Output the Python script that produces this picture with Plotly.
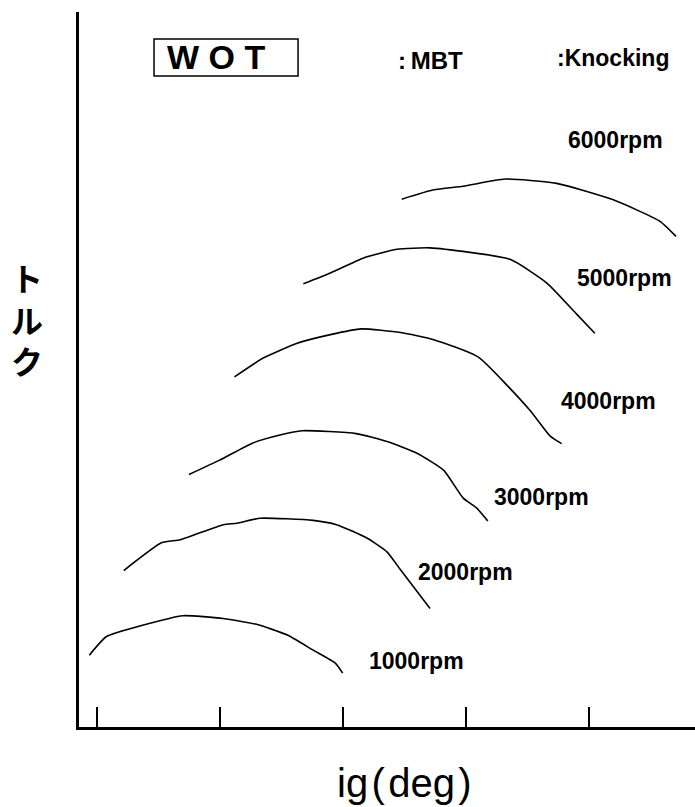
import plotly.graph_objects as go

# Full-throttle (WOT) torque vs. ignition timing, one curve per engine speed
ig_1000 = [-0.6, 0.8, 3.8, 7.0, 10.3, 13.0, 15.5, 17.6, 19.4, 20.0]
tq_1000 = [10.3, 12.9, 14.5, 15.8, 15.4, 14.6, 13.1, 11.0, 9.2, 7.8]

ig_2000 = [2.2, 5.3, 6.8, 10.3, 11.4, 13.3, 17.6, 19.5, 22.0, 23.6, 24.7, 27.1]
tq_2000 = [22.1, 26.0, 26.4, 28.5, 28.7, 29.4, 29.1, 28.5, 26.6, 24.7, 22.2, 16.8]

ig_3000 = [7.5, 10.0, 12.7, 14.9, 16.7, 21.1, 23.6, 26.0, 28.2, 29.8, 30.9, 31.8]
tq_3000 = [35.5, 37.5, 39.9, 41.0, 41.6, 41.2, 40.1, 38.5, 36.1, 32.2, 30.8, 29.0]

ig_4000 = [11.2, 13.5, 16.3, 19.0, 21.5, 24.7, 27.4, 31.0, 35.2, 36.9, 37.8]
tq_4000 = [49.1, 51.7, 53.8, 55.0, 55.8, 55.3, 54.3, 51.9, 44.5, 40.8, 39.8]

ig_5000 = [16.8, 19.0, 21.7, 24.4, 27.1, 33.6, 36.6, 39.0, 40.5]
tq_5000 = [62.1, 63.6, 65.7, 66.9, 67.1, 65.5, 62.2, 57.9, 55.2]

ig_6000 = [24.8, 27.4, 29.8, 33.2, 37.4, 42.0, 45.8, 47.1]
tq_6000 = [73.9, 75.2, 75.7, 76.7, 76.1, 73.8, 70.8, 68.7]

curves = [
    ("1000rpm", ig_1000, tq_1000),
    ("2000rpm", ig_2000, tq_2000),
    ("3000rpm", ig_3000, tq_3000),
    ("4000rpm", ig_4000, tq_4000),
    ("5000rpm", ig_5000, tq_5000),
    ("6000rpm", ig_6000, tq_6000),
]

# label anchor (ig, torque) for each speed
label_pos = {
    "1000rpm": (26.0, 9.5),
    "2000rpm": (30.0, 21.9),
    "3000rpm": (36.2, 32.4),
    "4000rpm": (41.6, 45.7),
    "5000rpm": (42.9, 62.9),
    "6000rpm": (42.2, 82.1),
}

tick_vals = [0, 10, 20, 30, 40]

LATIN = "Liberation Sans, Arial, sans-serif"

fig = go.Figure()
for name, xs, ys in curves:
    fig.add_trace(go.Scatter(
        x=xs, y=ys, mode="lines", name=name,
        line=dict(color="black", width=1.6, shape="spline", smoothing=0.5),
        showlegend=False, hoverinfo="skip",
    ))

annotations = []
for name, _, _ in curves:
    lx, ly = label_pos[name]
    annotations.append(dict(
        x=lx, y=ly, xref="x", yref="y", text=name, showarrow=False,
        font=dict(family=LATIN, size=23, color="black", weight="bold"),
        xanchor="center", yanchor="middle",
    ))

annotations += [
    dict(x=9.7, y=93.7, xref="x", yref="y", text="W O T", showarrow=False,
         font=dict(family=LATIN, size=34, color="black", weight="bold"),
         xanchor="center", yanchor="middle"),
    dict(x=27.1, y=93.3, xref="x", yref="y", text=":\u2009MBT", showarrow=False,
         font=dict(family=LATIN, size=24, color="black", weight="bold"),
         xanchor="center", yanchor="middle"),
    dict(x=42.0, y=93.6, xref="x", yref="y", text=":Knocking", showarrow=False,
         font=dict(family=LATIN, size=23, color="black", weight="bold"),
         xanchor="center", yanchor="middle"),
    dict(x=-0.0844, y=0.572, xref="paper", yref="paper", text="ト<br>ル<br>ク",
         showarrow=False,
         font=dict(family="Noto Sans CJK JP", size=32, color="black", weight="bold"),
         xanchor="center", yanchor="middle"),
    dict(x=0.529, y=-0.078, xref="paper", yref="paper",
         text="ig\u200a(\u200adeg\u200a)",
         showarrow=False,
         font=dict(family=LATIN, size=40, color="black"),
         xanchor="center", yanchor="middle"),
]

fig.update_layout(
    width=695, height=807,
    margin=dict(l=79, r=0, t=12, b=80),
    paper_bgcolor="white", plot_bgcolor="white",
    annotations=annotations,
    shapes=[dict(type="rect", xref="x", yref="y",
                 x0=4.66, x1=16.37, y0=91.07, y1=96.23,
                 line=dict(color="black", width=1.5))],
)
fig.update_xaxes(
    range=[-1.439, 48.642], showgrid=False, zeroline=False,
    showline=True, linecolor="black", linewidth=3,
    tickmode="array", tickvals=tick_vals, ticks="inside", ticklen=20,
    tickwidth=1.5, tickcolor="black", showticklabels=False,
)
fig.update_yaxes(
    range=[0.279, 100], showgrid=False, zeroline=False,
    showline=True, linecolor="black", linewidth=3,
    ticks="", showticklabels=False,
)

fig.write_html("out.html")
